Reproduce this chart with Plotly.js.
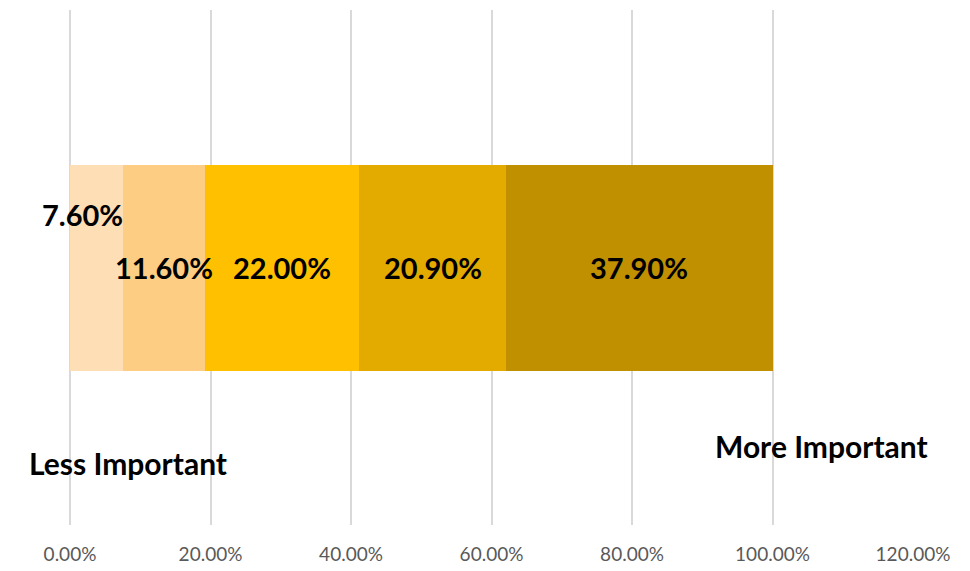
<!DOCTYPE html>
<html><head><meta charset="utf-8">
<script src="https://cdn.plot.ly/plotly-3.0.1.min.js"></script>
<style>html,body{margin:0;padding:0;background:#fff;}#chart{width:970px;height:571px;}</style>
</head><body><div id="chart"></div>
<script>
const category = ['Importance'];
const seriesNames = ['1', '2', '3', '4', '5'];
const seriesValues = [0.076, 0.116, 0.22, 0.209, 0.379];
const seriesColors = ['#FEDEB4', '#FDCD84', '#FFC000', '#E3AB00', '#C09000'];
const tickVals = [0, 0.2, 0.4, 0.6, 0.8, 1.0, 1.2];
const tickText = ['0.00%', '20.00%', '40.00%', '60.00%', '80.00%', '100.00%', '120.00%'];
const endLabels = ['Less Important', 'More Important'];

const fmt = v => (v * 100).toFixed(2) + '%';
const FAM = 'Lato, "Open Sans", sans-serif';
const labelFont = {family: FAM, size: 29, color: '#000', weight: 'bold'};

const traces = seriesValues.map((v, i) => ({
  type: 'bar', orientation: 'h',
  y: category, x: [v], name: seriesNames[i],
  width: 0.4,
  marker: {color: seriesColors[i], line: {width: 0}},
  hoverinfo: 'none'
}));

// value labels as annotations at segment centres
const annotations = [];
let cum = 0;
seriesValues.forEach((v, i) => {
  const a = {x: cum + v / 2, y: category[0], xref: 'x', yref: 'y', text: fmt(v),
    showarrow: false, font: labelFont, xanchor: 'center', yanchor: 'middle'};
  if (i === 0) { a.xshift = -14; a.yshift = 53; }
  annotations.push(a);
  cum += v;
});

const L = 70, R = 57, T = 10, B = 46, W = 970, H = 571;
const px2x = p => (p - L) / (W - L - R);
const px2y = p => 1 - (p - T) / (H - T - B);
annotations.push({x: px2x(128), y: px2y(463), xref: 'paper', yref: 'paper', text: endLabels[0],
  showarrow: false, xanchor: 'center', yanchor: 'middle', font: {family: FAM, size: 30, color: '#000', weight: 'bold'}});
annotations.push({x: px2x(821), y: px2y(446), xref: 'paper', yref: 'paper', text: endLabels[1],
  showarrow: false, xanchor: 'center', yanchor: 'middle', font: {family: FAM, size: 30, color: '#000', weight: 'bold'}});

const layout = {
  width: W, height: H,
  margin: {l: L, r: R, t: T, b: B, pad: 0},
  paper_bgcolor: '#fff', plot_bgcolor: '#fff',
  barmode: 'stack', showlegend: false,
  xaxis: {range: [0, 1.2], tickvals: tickVals, ticktext: tickText,
    showgrid: true, gridcolor: '#D9D9D9', gridwidth: 2,
    zeroline: true, zerolinecolor: '#D9D9D9', zerolinewidth: 2,
    showline: false, ticks: '', ticklabelstandoff: 16,
    tickfont: {family: FAM, size: 19, color: '#595959'}},
  yaxis: {range: [-0.5, 0.5], showticklabels: false, showgrid: false, zeroline: false, showline: false},
  annotations: annotations
};
Plotly.newPlot('chart', traces, layout, {displayModeBar: false, staticPlot: true});
</script></body></html>
